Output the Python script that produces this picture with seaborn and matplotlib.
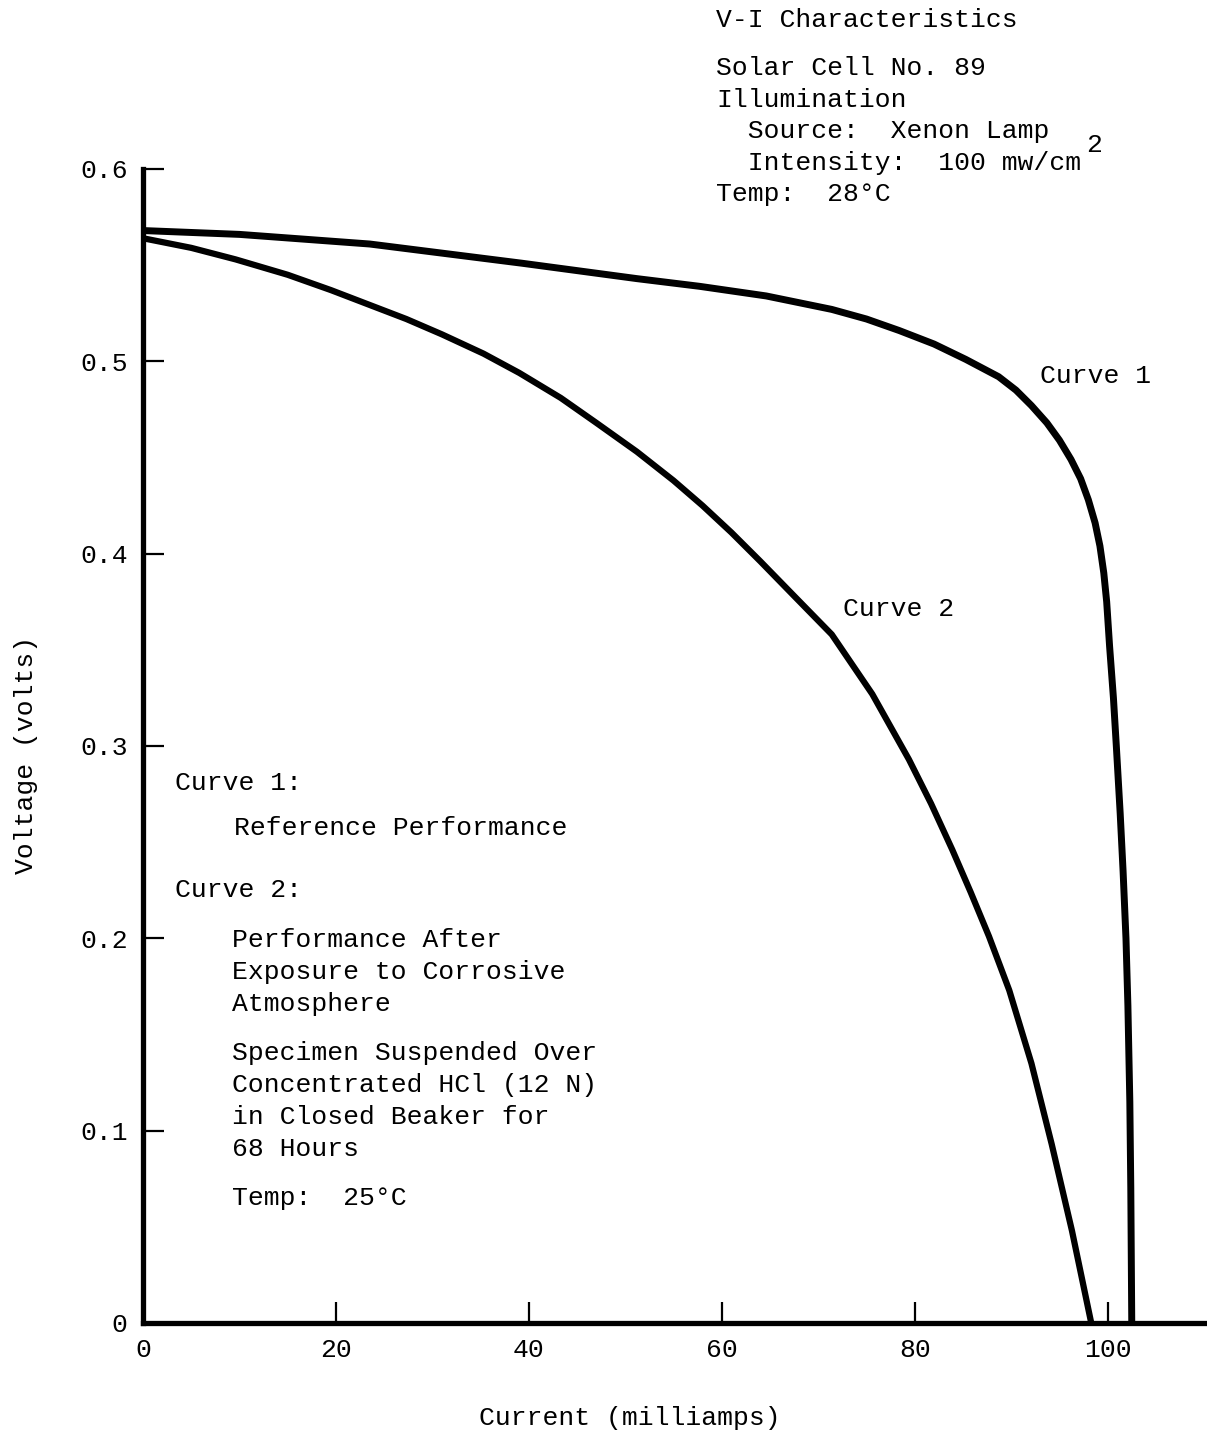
import matplotlib
matplotlib.use('Agg')
import matplotlib.pyplot as plt
import seaborn as sns
import pandas as pd

# V-I characteristics, solar cell no. 89
curve1_current = [0, 10, 23.5, 39.3, 51.2, 57.7, 64.6, 71.4, 75.0, 78.4, 82.0, 85.3,
                  88.7, 90.5, 92.1, 93.7, 95.0, 96.2, 97.2, 98.0, 98.7, 99.2, 99.6,
                  99.9, 100.2, 100.6, 100.9, 101.3, 101.6, 101.9, 102.1, 102.3,
                  102.4, 102.5]
curve1_voltage = [0.568, 0.566, 0.561, 0.551, 0.543, 0.539, 0.534, 0.527, 0.522, 0.516,
                  0.509, 0.501, 0.492, 0.485, 0.477, 0.468, 0.459, 0.449, 0.439, 0.428,
                  0.416, 0.404, 0.390, 0.375, 0.352, 0.325, 0.300, 0.265, 0.235, 0.200,
                  0.165, 0.115, 0.070, 0.0]

curve2_current = [0, 5, 9.6, 15, 19.5, 27.3, 31, 35.3, 39, 43.3, 47, 51.2, 55, 58, 61,
                  64, 67.5, 71.4, 75.6, 79.4, 81.7, 83.9, 85.8, 87.7, 89.8, 92.1, 94.2,
                  96.3, 98.3]
curve2_voltage = [0.564, 0.559, 0.553, 0.545, 0.537, 0.522, 0.514, 0.504, 0.494, 0.481,
                  0.468, 0.453, 0.438, 0.425, 0.411, 0.396, 0.378, 0.358, 0.327, 0.293,
                  0.270, 0.246, 0.224, 0.201, 0.173, 0.135, 0.093, 0.048, 0.0]

x_ticks = [0, 20, 40, 60, 80, 100]
y_ticks = [0, 0.1, 0.2, 0.3, 0.4, 0.5, 0.6]
y_tick_labels = ['0', '0.1', '0.2', '0.3', '0.4', '0.5', '0.6']

W, H = 1207, 1440
FS = 19

sns.set_theme(style='ticks')
plt.rcParams['font.family'] = ['Liberation Mono', 'DejaVu Sans Mono']

fig = plt.figure(figsize=(W / 100, H / 100), dpi=100)
fig.patch.set_facecolor('white')
ax = fig.add_axes([143 / W, (H - 1323) / H, (W - 143) / W, (1323 - 169) / H])
ax.set_facecolor('white')

df1 = pd.DataFrame({'current': curve1_current, 'voltage': curve1_voltage})
df2 = pd.DataFrame({'current': curve2_current, 'voltage': curve2_voltage})
sns.lineplot(data=df1, x='current', y='voltage', ax=ax, color='black', lw=5,
             sort=False, estimator=None, clip_on=False, solid_capstyle='butt',
             solid_joinstyle='round')
sns.lineplot(data=df2, x='current', y='voltage', ax=ax, color='black', lw=4.5,
             sort=False, estimator=None, clip_on=False, solid_capstyle='butt',
             solid_joinstyle='round')

ax.set_xlim(0, 110.3)
ax.set_ylim(0, 0.6)
ax.set_xticks(x_ticks)
ax.set_xticklabels([str(t) for t in x_ticks])
ax.set_yticks(y_ticks)
ax.set_yticklabels(y_tick_labels)
ax.tick_params(direction='in', length=15, width=1.6, color='black',
               labelsize=FS, labelcolor='black')
ax.tick_params(axis='y', pad=11)
ax.tick_params(axis='x', pad=11)

for s in ['top', 'right']:
    ax.spines[s].set_visible(False)
for s in ['left', 'bottom']:
    ax.spines[s].set_linewidth(3.8)
    ax.spines[s].set_color('black')

ax.set_xlabel('Current (milliamps)', fontsize=FS, color='black')
ax.xaxis.set_label_coords((630 - 143) / 1064, -(1406 - 1323) / 1154)
ax.set_ylabel('Voltage (volts)', fontsize=FS, color='black')
ax.yaxis.set_label_coords((38 - 143) / 1064, (1323 - 755) / 1154)


def put(px, py, s, size=FS):
    fig.text(px / W, 1 - py / H, s, fontsize=size, ha='left', va='baseline', color='black')


# header block
put(716, 27, 'V-I Characteristics')
put(716, 75, 'Solar Cell No. 89')
put(716, 107, 'Illumination')
put(716, 138, '  Source:  Xenon Lamp')
put(716, 170, '  Intensity:  100 mw/cm')
put(1086, 152, '2')
put(716, 201, 'Temp:  28°C')

# curve labels
put(1040, 383, 'Curve 1')
put(843, 616, 'Curve 2')

# legend notes
put(175, 790, 'Curve 1:')
put(234, 835, 'Reference Performance')
put(175, 897, 'Curve 2:')
put(232, 947, 'Performance After')
put(232, 979, 'Exposure to Corrosive')
put(232, 1011, 'Atmosphere')
put(232, 1060, 'Specimen Suspended Over')
put(232, 1092, 'Concentrated HCl (12 N)')
put(232, 1124, 'in Closed Beaker for')
put(232, 1156, '68 Hours')
put(232, 1205, 'Temp:  25°C')

fig.savefig('out.png', dpi=100, facecolor='white')
